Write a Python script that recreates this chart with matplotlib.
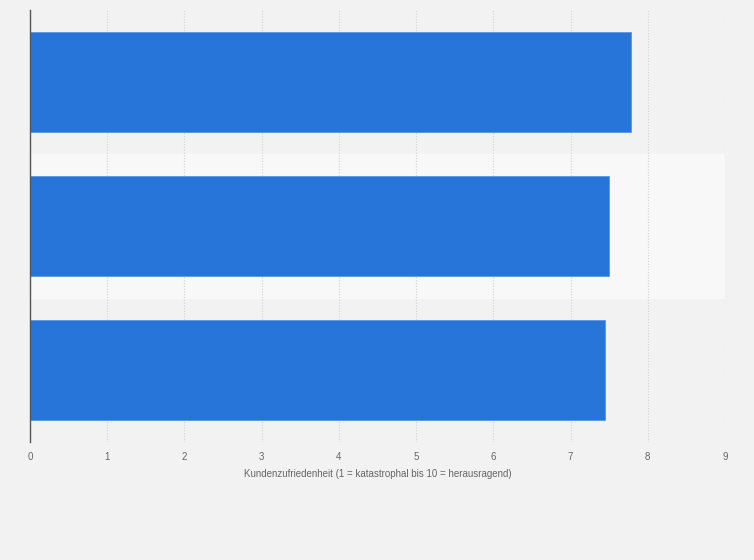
import matplotlib.pyplot as plt

# values (category names are not shown in the picture)
categories = ["Kategorie 1", "Kategorie 2", "Kategorie 3"]
values = [7.78, 7.5, 7.44]
x_ticks = list(range(0, 10))

BAR_COLOR = "#2775d9"
BG_COLOR = "#f2f2f2"
BAND_COLOR = "#f8f8f8"

plt.rcParams["font.family"] = ["Liberation Sans", "DejaVu Sans"]


def main():
    fig = plt.figure(figsize=(7.54, 5.6), dpi=100)
    fig.patch.set_facecolor(BG_COLOR)
    ax = fig.add_axes([30 / 754, 1 - 442 / 560, 695 / 754, 432 / 560])
    ax.set_facecolor(BG_COLOR)

    y_pos = list(range(len(categories)))
    ax.barh(y_pos, values, height=0.69, color=BAR_COLOR,
            edgecolor="#5a95e3", linewidth=0.6, zorder=3)

    # lighter band behind every second category
    for i in y_pos:
        if i % 2 == 1:
            ax.axhspan(i - 0.5, i + 0.5, color=BAND_COLOR, zorder=0)

    ax.set_ylim(len(categories) - 0.5, -0.5)
    ax.set_xlim(0, 9)
    ax.set_xticks(x_ticks)
    ax.set_xticklabels([str(t) for t in x_ticks])
    ax.set_yticks([])

    ax.grid(axis="x", color="#d3d3d3", linestyle=(0, (1, 1.5)), linewidth=0.8, zorder=1)
    ax.tick_params(axis="x", length=0, pad=7, labelsize=7, labelcolor="#666666")

    for side in ["top", "right", "bottom"]:
        ax.spines[side].set_visible(False)
    ax.spines["left"].set_color("#555555")
    ax.spines["left"].set_linewidth(1.0)
    ax.spines["left"].set_zorder(4)

    ax.set_xlabel("Kundenzufriedenheit (1 = katastrophal bis 10 = herausragend)",
                  fontsize=7, color="#666666", labelpad=5)

    fig.savefig("out.png", dpi=100, facecolor=BG_COLOR)
    plt.close(fig)


if __name__ == "__main__":
    main()
